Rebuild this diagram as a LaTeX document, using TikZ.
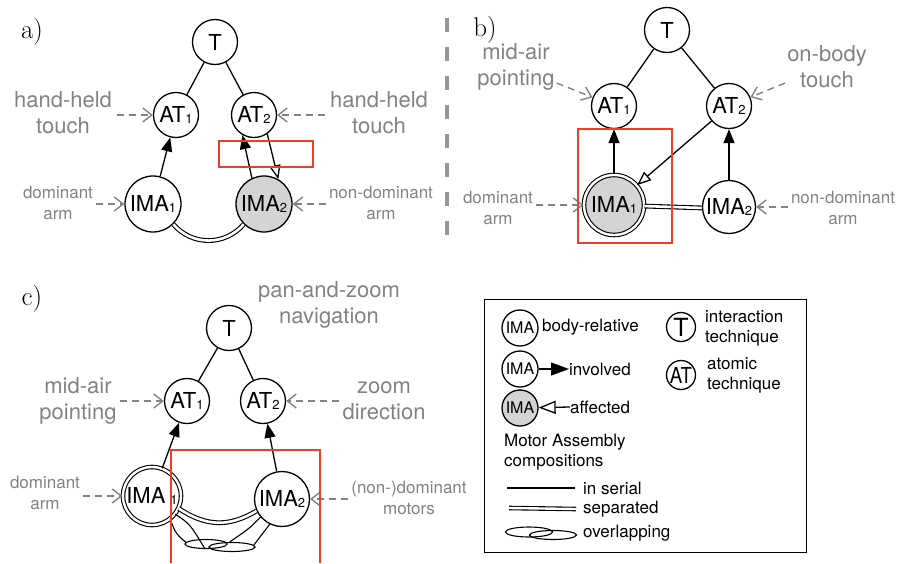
\documentclass[tikz,border=0pt]{standalone}
\usepackage{fontspec}
\usetikzlibrary{arrows.meta,shapes.geometric}
\newfontfamily\helv{TeX Gyre Heros}
\definecolor{lblgray}{RGB}{130,130,130}
\definecolor{imafill}{RGB}{212,212,212}
\definecolor{hilite}{RGB}{240,62,36}
\definecolor{divider}{RGB}{150,150,150}
\newcommand\sub[1]{\raisebox{-0.5pt}{\fontsize{13}{13}\selectfont#1}}

\tikzset{
  nd/.style={circle, draw, line width=1.3pt, fill=white, inner sep=0pt,
    minimum size=45pt, font=\helv\fontsize{22}{22}\selectfont},
  ima/.style={nd, minimum size=56pt},
  dbl/.style={double, double distance=2.4pt, line width=1.1pt},
  edge/.style={line width=1.3pt},
  inv/.style={line width=1.3pt, -{Triangle[length=14pt,width=11pt]}},
  aff/.style={line width=1.3pt, -{Triangle[open,length=14pt,width=11pt,fill=white]}},
  sepl/.style={double, double distance=2.6pt, line width=1.1pt},
  ovl/.style={line width=1.1pt},
  big/.style={text=lblgray, align=center, inner sep=2pt,
    font=\helv\fontsize{22}{26}\selectfont},
  small/.style={text=lblgray, align=center, inner sep=2pt,
    font=\helv\fontsize{17}{21}\selectfont},
  ptr/.style={draw=lblgray, line width=1.4pt, dash pattern=on 7pt off 5pt,
    -{Straight Barb[length=9pt,width=14pt,line width=1.4pt]}},
  hl/.style={draw=hilite, line width=1.4pt},
  panel/.style={inner sep=0pt, font=\fontsize{27}{27}\selectfont},
  lc/.style={circle, draw, line width=1.3pt, inner sep=0pt, minimum size=36pt,
    font=\helv\fontsize{16}{16}\selectfont},
  lt/.style={inner sep=0pt, align=left, font=\helv\fontsize{17}{20}\selectfont},
  ovnode/.style={ellipse, draw, line width=1.1pt, inner sep=0pt},
}

\begin{document}
\begin{tikzpicture}[x=1pt,y=-1pt]
\useasboundingbox (0,0) rectangle (897,563);

% ---------------- panel a ----------------
\node[panel] (pa) at (32,32) {a)};
\node[nd] (aT)   at (215,42)  {T};
\node[nd] (aAT1) at (176,115) {AT\sub1};
\node[nd] (aAT2) at (254,115) {AT\sub2};
\node[ima] (aIMA1) at (153,204) {IMA\sub1};
\node[ima, fill=imafill] (aIMA2) at (264,204) {IMA\sub2};

\draw[edge] (aT) -- (aAT1);
\draw[edge] (aT) -- (aAT2);
\draw[inv] (aIMA1) -- (aAT1);
\draw[inv] (aIMA2.115) -- (aAT2.240);
\draw[aff] (aAT2.-55) -- (aIMA2.60);
\draw[sepl] (aIMA1.-45) .. controls (192,246) and (225,246) .. (aIMA2.-135);

\node[big] (aL1) at (63,113) {hand-held\\touch};
\node[big] (aL2) at (379,113) {hand-held\\touch};
\node[small] (aL3) at (58,203) {dominant\\arm};
\node[small] (aL4) at (381,203) {non-dominant\\arm};
\draw[ptr] ([xshift=3pt]aL1.east |- aAT1) -- (aAT1);
\draw[ptr] ([xshift=-3pt]aL2.west |- aAT2) -- (aAT2);
\draw[ptr] ([xshift=1pt]aL3.east |- aIMA1) -- (aIMA1);
\draw[ptr] ([xshift=-1pt]aL4.west |- aIMA2) -- (aIMA2);

\draw[hl] (219,141) rectangle (313,167);

% divider between panels a and b
\draw[divider, line width=3.5pt, dash pattern=on 14pt off 15pt] (447,18) -- (447,248);

% ---------------- panel b ----------------
\node[panel] (pb) at (485,30) {b)};
\node[nd] (bT)   at (667,30)  {T};
\node[nd] (bAT1) at (614,106) {AT\sub1};
\node[nd] (bAT2) at (729,106) {AT\sub2};
\node[ima, dbl, fill=imafill, minimum size=60pt] (bIMA1) at (614,205) {IMA\sub1};
\node[ima, minimum size=53pt] (bIMA2) at (729,207) {IMA\sub2};

\draw[edge] (bT) -- (bAT1);
\draw[edge] (bT) -- (bAT2);
\draw[inv] (bIMA1) -- (bAT1);
\draw[inv] (bIMA2) -- (bAT2);
\draw[aff] (bAT2) -- (bIMA1);
\draw[sepl] (bIMA1.-2) -- (bIMA2.182);

\node[big] (bL1) at (516,67) {mid-air\\pointing};
\node[big] (bL2) at (827,67) {on-body\\touch};
\node[small] (bL3) at (498,208) {dominant\\arm};
\node[small] (bL4) at (843,208) {non-dominant\\arm};
\draw[ptr] ([yshift=-16pt]bL1.east) -- (bAT1);
\draw[ptr] ([yshift=-16pt]bL2.west) -- (bAT2);
\draw[ptr] ([xshift=1pt]bL3.east |- bIMA1) -- (bIMA1);
\draw[ptr] ([xshift=-1pt]bL4.west |- bIMA2) -- (bIMA2);

\draw[hl] (578,129) rectangle (672,243);

% ---------------- panel c ----------------
\node[panel] (pc) at (32,299) {c)};
\node[nd] (cT)   at (229,328) {T};
\node[nd] (cAT1) at (187,401) {AT\sub1};
\node[nd] (cAT2) at (263,401) {AT\sub2};
\node[ima, dbl, minimum size=58pt] (cIMA1) at (152,496) {IMA\kern5pt\sub1};
\node[ima, minimum size=55pt] (cIMA2) at (282,499) {IMA\sub2};

\draw[edge] (cT) -- (cAT1);
\draw[edge] (cT) -- (cAT2);
\draw[inv] (cIMA1) -- (cAT1);
\draw[inv] (cIMA2) -- (cAT2);
\draw[sepl] (cIMA1.-25) .. controls (205,526) and (228,528) .. (cIMA2.205);

% overlapping composition
\node[ovnode, minimum width=42pt, minimum height=9pt] (cov1) at (206,544) {};
\node[ovnode, minimum width=46pt, minimum height=9pt] (cov2) at (232,547) {};
\draw[ovl] (cIMA1.-52) .. controls (176,534) .. (cov1.175);
\draw[ovl] (cIMA1.-38) .. controls (190,524) .. (cov1.-100);
\draw[ovl] (cIMA2.-140) .. controls (250,528) .. (cov2.115);
\draw[ovl] (cIMA2.-116) .. controls (262,534) .. (cov2.5);

\node[big] (cL0) at (329,305) {pan-and-zoom\\navigation};
\node[big] (cL1) at (78,401) {mid-air\\pointing};
\node[big] (cL2) at (384,401) {zoom\\direction};
\node[small] (cL3) at (45,493) {dominant\\arm};
\node[small] (cL4) at (409,498) {(non-)dominant\\motors};
\draw[ptr] ([xshift=1pt]cL1.east |- cAT1) -- (cAT1);
\draw[ptr] ([xshift=-1pt]cL2.west |- cAT2) -- (cAT2);
\draw[ptr] ([xshift=1pt]cL3.east |- cIMA1) -- (cIMA1);
\draw[ptr] ([xshift=-1pt]cL4.west |- cIMA2) -- (cIMA2);

\draw[hl] (171,563) -- (171,450) -- (320,450) -- (320,563);

% ---------------- legend ----------------
\node[draw, line width=1.3pt, inner sep=0pt, minimum width=322pt,
  minimum height=253pt, anchor=north west] (leg) at (484,299) {};

\node[lc] (lg1) at (520,328) {IMA};
\node[lt, anchor=west] (lg1t) at (542,327) {body-relative};

\node[lc] (lg2) at (520,369) {IMA};
\node[lt, anchor=west] (lg2t) at (569,369) {involved};
\draw[line width=1.3pt, -{Triangle[length=18pt,width=13pt]}] (lg2) -- (lg2t.west);

\node[lc, fill=imafill] (lg3) at (520,408) {IMA};
\node[lt, anchor=west] (lg3t) at (570,407) {affected};
\draw[line width=1.3pt, -{Triangle[open,length=17pt,width=13pt]}] (lg3t.west) -- (lg3);

\node[lt, anchor=west] (lgma) at (504,452) {Motor Assembly\\compositions};

\coordinate (ser0) at (507,488);
\node[lt, anchor=west] (lgser) at (583,488) {in serial};
\draw[line width=1.2pt] (ser0) -- ([xshift=-8pt]lgser.west);

\coordinate (sep0) at (509,508);
\node[lt, anchor=west] (lgsep) at (583,509) {separated};
\draw[sepl, double distance=2.4pt] (sep0) -- ([xshift=-7pt]lgsep.west);

\node[ovnode, minimum width=47pt, minimum height=10pt] (lgo1) at (529,532) {};
\node[ovnode, minimum width=47pt, minimum height=9pt] (lgo2) at (553,535) {};
\node[lt, anchor=west] (lgov) at (583,533) {overlapping};

\node[lc, font=\helv\fontsize{25}{25}\selectfont, minimum size=29pt] (lgT) at (681,327) {T};
\node[lt, anchor=west] (lgTt) at (705,328) {interaction\\technique};

\node[lc, font=\helv\fontsize{22}{22}\selectfont, minimum size=29pt] (lgAT) at (681,375) {\scalebox{0.85}[1]{AT}};
\node[lt, anchor=west] (lgATt) at (707,375) {atomic\\technique};
\end{tikzpicture}
\end{document}
